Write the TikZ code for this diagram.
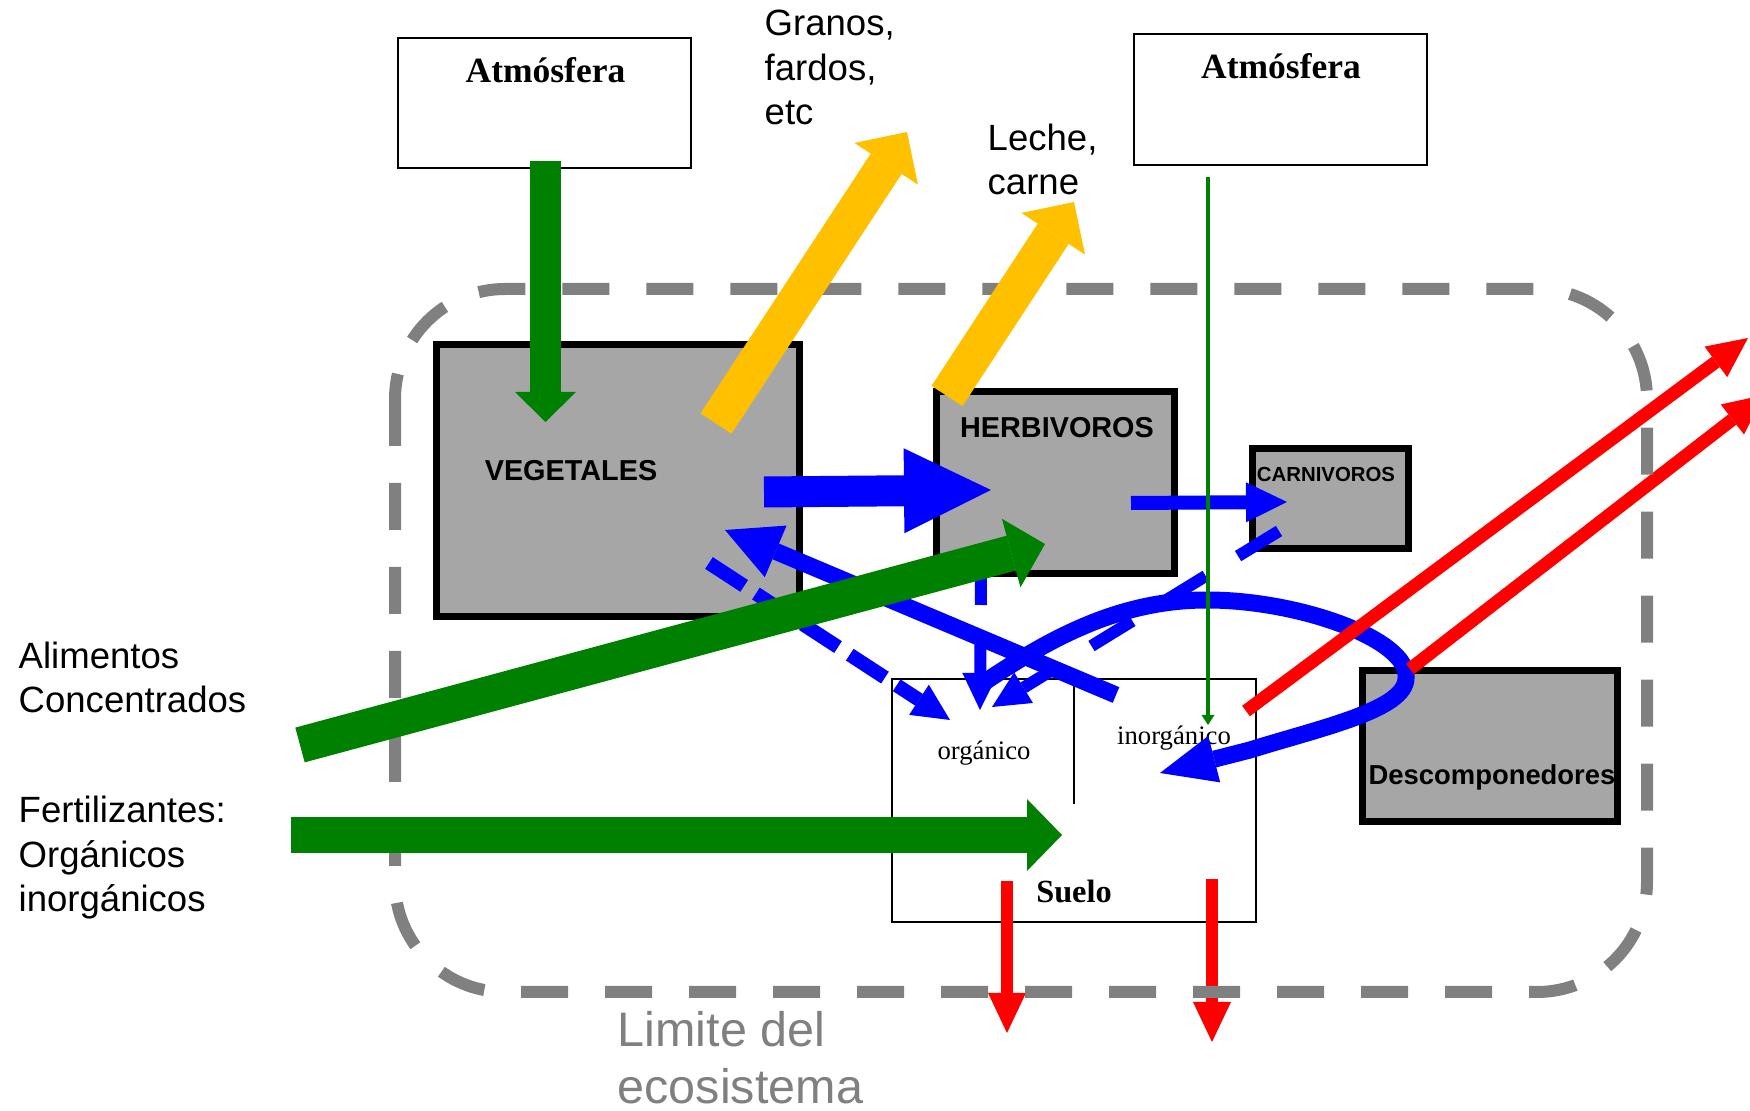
\documentclass[tikz,border=0pt]{standalone}
\usepackage{fontspec}
\setmainfont{Liberation Sans}
\newfontfamily\timesfont{Liberation Serif}
\usetikzlibrary{arrows.meta}

\definecolor{boxgray}{RGB}{166,166,166}
\definecolor{edgegray}{RGB}{128,128,128}
\definecolor{plantgreen}{RGB}{0,128,0}
\definecolor{cropyellow}{RGB}{255,192,0}
\definecolor{flowblue}{RGB}{0,0,255}
\definecolor{lossred}{RGB}{255,0,0}

\tikzset{
  organism/.style={draw=black,line width=0.7mm,fill=boxgray,inner sep=0pt},
  plainbox/.style={draw=black,line width=0.2mm,fill=white,inner sep=0pt},
  boxtitle/.style={inner sep=0pt,anchor=base,font=\bfseries\fontsize{8.2}{9}\selectfont},
  airtitle/.style={inner sep=0pt,anchor=base,font=\timesfont\bfseries\fontsize{10.1}{12}\selectfont},
  soiltext/.style={inner sep=0pt,anchor=base,font=\timesfont\fontsize{7.6}{9}\selectfont},
  % anchored on the baseline of the last line
  sidetext/.style={inner sep=0pt,anchor=base west,align=left,font=\fontsize{10.4}{12.8}\selectfont},
  % shaft width, head width, head length
  flow/.style n args={3}{line width=#1,-{Triangle[width=#2,length=#3,line width=0pt]}},
}

\begin{document}
\begin{tikzpicture}[x=0.1mm,y=-0.1mm]
  \useasboundingbox (0,0) rectangle (1750,1111);

  % compartments
  \node[plainbox,minimum width=29.3mm,minimum height=13mm] (atmA) at (544.5,103) {};
  \node[plainbox,minimum width=29.3mm,minimum height=13.1mm] (atmB) at (1280.5,99.5) {};
  \node[organism,minimum width=36.3mm,minimum height=27.2mm] (veg) at (618,480.5) {};
  \node[organism,minimum width=23.8mm,minimum height=18.2mm] (herb) at (1055.5,482.5) {};
  \node[organism,minimum width=15.6mm,minimum height=10mm] (carn) at (1330.5,498.5) {};
  \node[organism,minimum width=25.5mm,minimum height=15.1mm] (desc) at (1490,746) {};
  \node[plainbox,minimum width=36.4mm,minimum height=24.3mm] (soil) at (1074,800.5) {};
  \draw[line width=0.2mm] (soil.north) -- ++(0,126);

  \node[airtitle] (atmAlbl) at (545.5,83) {Atmósfera};
  \node[airtitle] (atmBlbl) at (1281,79) {Atmósfera};
  \node[boxtitle] (veglbl) at (571,481) {VEGETALES};
  \node[boxtitle] (herblbl) at (1057,438) {HERBIVOROS};
  \node[boxtitle,font=\bfseries\fontsize{5.8}{7}\selectfont] (carnlbl) at (1326,482) {CARNIVOROS};
  \node[boxtitle,font=\bfseries\fontsize{7.8}{9}\selectfont] (desclbl) at (1492,785) {Descomponedores};
  \node[soiltext] (orglbl) at (984,760) {orgánico};
  \node[soiltext] (inorglbl) at (1174,745) {inorgánico};
  \node[airtitle,font=\timesfont\bfseries\fontsize{9.2}{11}\selectfont] (soillbl) at (1074,903) {Suelo};

  % free ends of the flows
  \coordinate (eatS) at (764,492);    \coordinate (eatE) at (991,490);
  \coordinate (preyS) at (1131,503);  \coordinate (preyE) at (1287,502);
  \coordinate (upS) at (1116,695);    \coordinate (upE) at (725,530);
  \coordinate (litS) at (709,563);    \coordinate (litE) at (950,720);
  \coordinate (dungS) at (981,577);   \coordinate (dungE) at (980,710);
  \coordinate (carcS) at (1279,531);  \coordinate (carcE) at (992,707);
  \coordinate (minS) at (973,690);    \coordinate (minE) at (1160,773);
  \coordinate (gasS) at (1246,711);   \coordinate (gasE) at (1748,338);
  \coordinate (respS) at (1410,669);  \coordinate (respE) at (1764,395);
  \coordinate (leachS) at (1007,881); \coordinate (leachE) at (1007,1033);
  \coordinate (lossS) at (1212,879);  \coordinate (lossE) at (1212,1042);

  % nutrient cycle
  \draw[flowblue,flow={3.1mm}{8.5mm}{8.7mm}] (eatS) -- (eatE);
  \draw[flowblue,flow={1.4mm}{4mm}{4.1mm}] (preyS) -- (preyE);
  \draw[flowblue,flow={1.7mm}{5.6mm}{5.5mm}] (upS) -- (upE);
  \draw[flowblue,flow={1.4mm}{3.6mm}{3.7mm},dash pattern=on 4.2mm off 1.4mm] (litS) -- (litE);
  \draw[flowblue,flow={1.2mm}{3.6mm}{3.7mm},dash pattern=on 4.8mm off 3.6mm,dash phase=2mm] (dungS) -- (dungE);
  \draw[flowblue,flow={1.2mm}{3.6mm}{3.7mm},dash pattern=on 4.8mm off 3.8mm] (carcS) -- (carcE);
  \draw[flowblue,flow={1.7mm}{4.8mm}{5.6mm}] (minS)
    .. controls (1050,637) and (1120,600) .. (1207,600)
    .. controls (1300,600) and (1410,640) .. (1406,678)
    .. controls (1406,710) and (1320,728) .. (1250,750) -- (minE);

  % losses
  \foreach \s/\e in {gasS/gasE,respS/respE}
    \draw[lossred,flow={1.3mm}{3.8mm}{4mm}] (\s) -- (\e);
  \foreach \s/\e in {leachS/leachE,lossS/lossE}
    \draw[lossred,flow={1.25mm}{3.8mm}{4mm}] (\s) -- (\e);

  % system boundary
  \draw[edgegray,line width=1.2mm,dash pattern=on 4.7mm off 3.7mm,rounded corners=11mm]
    (395,289) rectangle (1647,992);

  % inputs
  \draw[plantgreen,flow={3.1mm}{6.1mm}{3mm}] (545.5,161) coordinate (fixS) -- (545.5,422) coordinate (fixE);
  \draw[plantgreen,flow={3.6mm}{7.1mm}{3.5mm}] (300,745) coordinate (feedS) -- (1045,544) coordinate (feedE);
  \draw[plantgreen,flow={3.6mm}{7.2mm}{3.5mm}] (291,835) coordinate (fertS) -- (1062,835) coordinate (fertE);
  \draw[plantgreen,line width=0.4mm,-{Triangle[width=1.3mm,length=1mm,line width=0pt]}]
    (1208,177) coordinate (depS) -- (1208,725) coordinate (depE);

  % products
  \draw[cropyellow,flow={3.7mm}{7.6mm}{3.8mm}] (716,423.5) coordinate (grainS) -- (907,132) coordinate (grainE);
  \draw[cropyellow,flow={3.7mm}{7.6mm}{3.8mm}] (947,396) coordinate (milkS) -- (1074,202) coordinate (milkE);

  \node[sidetext] (granos) at (764,125) {Granos,\\fardos,\\etc};
  \node[sidetext] (leche) at (987,195) {Leche,\\carne};
  \node[sidetext] (feedlbl) at (18,713) {Alimentos\\Concentrados};
  \node[sidetext] (fertlbl) at (18,912) {Fertilizantes:\\Orgánicos\\inorgánicos};
  \node[sidetext,text=edgegray,font=\fontsize{13.8}{16.2}\selectfont] (limlbl) at (617,1103) {Limite del\\ecosistema};
\end{tikzpicture}
\end{document}
